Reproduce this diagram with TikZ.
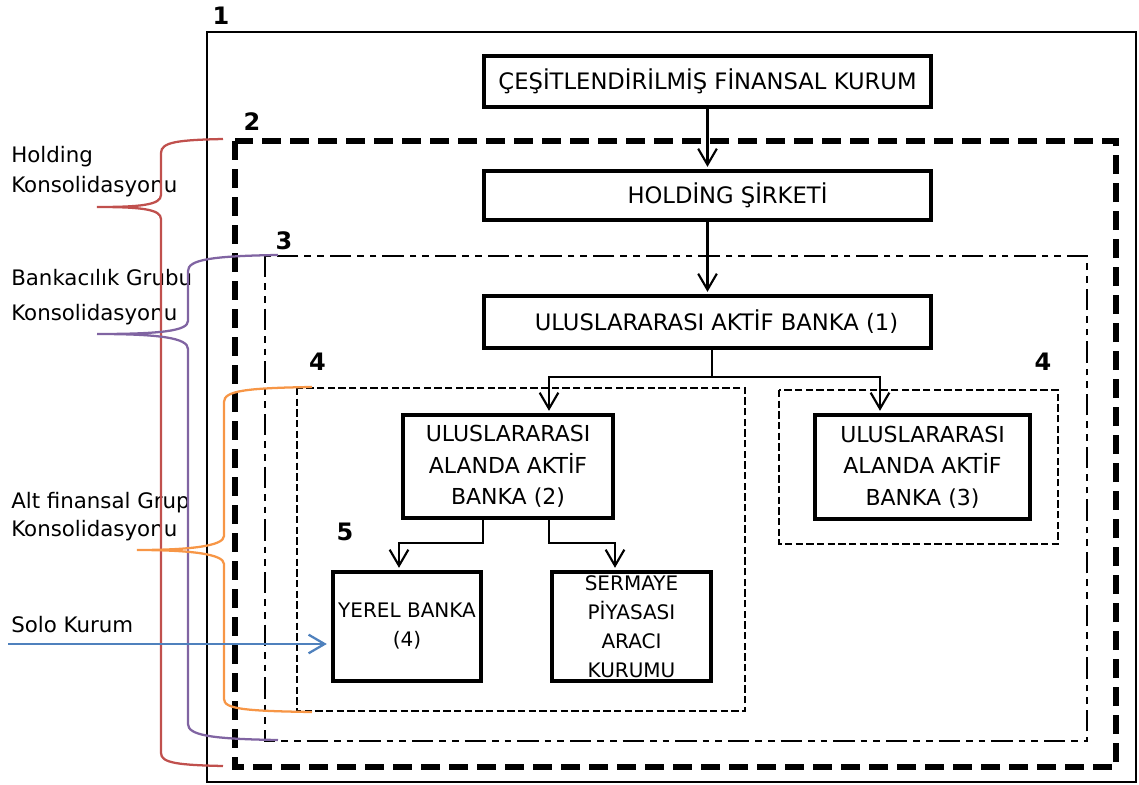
\documentclass[tikz,border=0pt]{standalone}
\usepackage{fontspec}
\setmainfont{DejaVu Sans}
\usetikzlibrary{arrows.meta}

\definecolor{bracered}{HTML}{C0504D}
\definecolor{bracepurple}{HTML}{8064A2}
\definecolor{braceorange}{HTML}{F79646}
\definecolor{arrowblue}{HTML}{4F81BD}

\tikzset{
  unit/.style={draw, line width=3.3pt, inner sep=0pt, align=center,
    font=\fontsize{17}{24}\selectfont},
  unitsmall/.style={unit, font=\fontsize{15}{21.75}\selectfont},
  frameone/.style={line width=2.2pt},
  frametwo/.style={line width=3.8pt, dash pattern=on 14pt off 7pt},
  framethree/.style={line width=2.1pt,
    dash pattern=on 16pt off 4.5pt on 5pt off 4.5pt on 5pt off 4.5pt},
  framefour/.style={line width=2pt, dash pattern=on 5.5pt off 2.5pt},
  link/.style={line width=1.6pt},
  arr/.style={link, -{Straight Barb[length=12pt,width=14pt]}, shorten >=1.5pt},
  num/.style={font=\bfseries\fontsize{18}{22}\selectfont},
  sidelabel/.style={anchor=base west, inner sep=0pt, font=\fontsize{16}{20}\selectfont},
  brace/.style={line width=1.7pt},
}

\begin{document}
\begin{tikzpicture}[x=0.75pt, y=-0.75pt]
\useasboundingbox (0,0) rectangle (1139,785);

% consolidation frames
\draw[frameone]   (207,32)  rectangle (1136,782);
\draw[frametwo]   (235,141) rectangle (1116,767);
\draw[framethree] (265,256) rectangle (1087,741);
\draw[framefour]  (297,388) rectangle (745,711);
\draw[framefour]  (779,390) rectangle (1058,544);

% frame numbers
\node[num] (n1)  at (221,16)   {1};
\node[num] (n2)  at (252,122)  {2};
\node[num] (n3)  at (284,241)  {3};
\node[num] (n4a) at (317.5,362) {4};
\node[num] (n4b) at (1043,362) {4};
\node[num] (n5)  at (345,532)  {5};

% institutions
\node[unit, minimum width=335.25pt, minimum height=38.25pt] (top) at (707.5,81.5)
  {ÇEŞİTLENDİRİLMİŞ FİNANSAL KURUM};
\node[unit, minimum width=335.25pt, minimum height=36.75pt] (hold) at (707.5,195.5)
  {\hspace*{30pt}HOLDİNG ŞİRKETİ};
\node[unit, minimum width=335.25pt, minimum height=39pt] (b1) at (707.5,322)
  {\hspace*{13.5pt}ULUSLARARASI AKTİF BANKA (1)};
\node[unit, font=\fontsize{16.5}{23.6}\selectfont, minimum width=157.5pt, minimum height=77.25pt] (b2) at (508,466.5)
  {ULUSLARARASI\\ALANDA AKTİF\\BANKA (2)};
\node[unit, font=\fontsize{16.5}{23.6}\selectfont, minimum width=161.25pt, minimum height=78pt] (b3) at (922.5,467)
  {ULUSLARARASI\\ALANDA AKTİF\\BANKA (3)};
\node[unitsmall, minimum width=111pt, minimum height=81.75pt] (yerel) at (407,626.5)
  {YEREL BANKA\\(4)};
\node[unitsmall, minimum width=119.25pt, minimum height=81.75pt, text depth=-1.5pt] (serm) at (631.5,626.5)
  {SERMAYE\\PİYASASI\\ARACI\\KURUMU};

% ownership links
\draw[arr] (top) -- (hold);
\draw[arr] (hold) -- (b1);

\coordinate (split1) at (712,377);
\coordinate (tb2) at (549,0);
\coordinate (tb3) at (880,0);
\draw[link] (b1.south -| split1) -- (split1);
\draw[arr] (split1) -| (b2.north -| tb2);
\draw[arr] (split1) -| (b3.north -| tb3);

\coordinate (split2l) at (483,543);
\coordinate (split2r) at (549,543);
\coordinate (ty) at (399,0);
\coordinate (ts) at (615,0);
\draw[arr] (b2.south -| split2l) -- (split2l) -| (yerel.north -| ty);
\draw[arr] (b2.south -| split2r) -- (split2r) -| (serm.north -| ts);

% side labels
\node[sidelabel] (lh1) at (11,162) {Holding};
\node[sidelabel] (lh2) at (11,192) {Konsolidasyonu};
\node[sidelabel] (lb1) at (11,285) {Bankacılık Grubu};
\node[sidelabel] (lb2) at (11,320) {Konsolidasyonu};
\node[sidelabel] (la1) at (11,508) {Alt finansal Grup};
\node[sidelabel] (la2) at (11,536) {Konsolidasyonu};
\node[sidelabel] (ls)  at (11,632) {Solo Kurum};

% braces
\coordinate (rtop) at (223,139);
\coordinate (rtip) at (97,207);
\coordinate (rbot) at (223,766);
\draw[brace, bracered]
  (rtop) .. controls (178,140) and (161,142) .. (161,153) -- (161,195)
  .. controls (161,205) and (140,207) .. (rtip)
  .. controls (140,207) and (161,209) .. (161,219) -- (161,753)
  .. controls (161,763) and (178,765) .. (rbot);

\coordinate (ptop) at (278,255);
\coordinate (ptip) at (97,334);
\coordinate (pbot) at (278,740);
\draw[brace, bracepurple]
  (ptop) .. controls (210,256) and (188,260) .. (188,271) -- (188,321)
  .. controls (188,331) and (160,334) .. (ptip)
  .. controls (160,334) and (188,338) .. (188,349) -- (188,724)
  .. controls (188,735) and (210,739) .. (pbot);

\coordinate (otop) at (312,387);
\coordinate (otip) at (137,550);
\coordinate (obot) at (312,712);
\draw[brace, braceorange]
  (otop) .. controls (245,388) and (224,391) .. (224,402) -- (224,536)
  .. controls (224,546) and (190,550) .. (otip)
  .. controls (190,550) and (224,554) .. (224,564) -- (224,699)
  .. controls (224,709) and (245,711) .. (obot);

% solo entity pointer
\coordinate (solo) at (8,644);
\draw[arrowblue, line width=1.7pt, -{Straight Barb[length=12pt,width=14pt]}, shorten >=3pt]
  (solo) -- (yerel.west |- solo);
\end{tikzpicture}
\end{document}
